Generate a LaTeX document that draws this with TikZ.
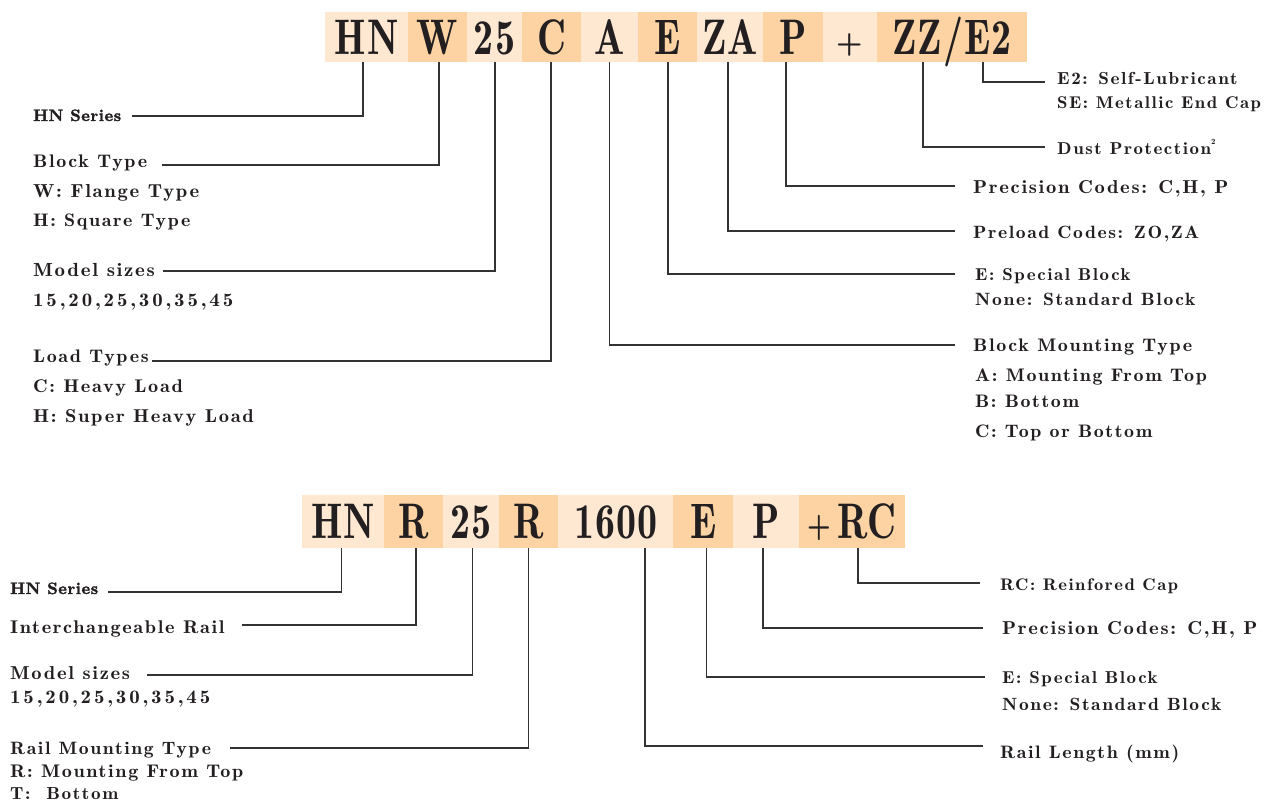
\documentclass[tikz,border=0pt]{standalone}
\usepackage{fontspec}
\setmainfont{Latin Modern Roman}
\newfontfamily\labfam[LetterSpace=9,FakeStretch=1.1]{lmromandemi10-regular.otf}
\newfontfamily\digfam[LetterSpace=15,FakeStretch=1.1]{lmromandemi10-regular.otf}
\newfontfamily\boldfam[LetterSpace=3,FakeBold=2]{lmroman10-bold.otf}
\newfontfamily\codefam[LetterSpace=3]{lmromandemi10-regular.otf}
\definecolor{lightc}{HTML}{FFE8D2}
\definecolor{darkc}{HTML}{FDD3A3}
\definecolor{ink}{HTML}{231F20}
\definecolor{linec}{HTML}{333333}
\newcommand\cd[1]{\scalebox{0.8}[1]{#1}}
\tikzset{
  cbox/.style={draw=none, inner sep=0pt, text=ink, text height=34pt, text depth=0pt,
    font={\codefam\fontsize{50}{50}\selectfont}},
  tbox/.style={cbox, minimum height=50pt},
  bbox/.style={cbox, minimum height=53pt},
  lt/.style={fill=lightc},
  dk/.style={fill=darkc},
  lab/.style={anchor=base west, inner sep=0pt, text=ink, font={\labfam\fontsize{#1}{#1}\selectfont}},
  lab/.default=19,
  dlab/.style={anchor=base west, inner sep=0pt, text=ink, font={\digfam\fontsize{19}{19}\selectfont}},
  blab/.style={anchor=base west, inner sep=0pt, text=ink, font={\boldfam\fontsize{16.5}{18}\selectfont}},
  leader/.style={draw=linec, line width=1.2pt}
}
\begin{document}
\begin{tikzpicture}[x=1pt, y=-1pt]
\useasboundingbox (0,0) rectangle (1270,803);
% ---------- top code bar ----------
\node[tbox, lt, minimum width=83] (tHN) at (366.5,37) {\cd{HN}};
\node[tbox, dk, minimum width=59] (tW) at (437.5,37) {\cd{W}};
\node[tbox, lt, minimum width=55] (t25) at (494.5,37) {\cd{25}};
\node[tbox, dk, minimum width=59] (tC) at (551.5,37) {\cd{C}};
\node[tbox, lt, minimum width=57] (tA) at (609.5,37) {\cd{A}};
\node[tbox, dk, minimum width=59] (tE) at (667.5,37) {\cd{E}};
\node[tbox, lt, minimum width=66] (tZA) at (730,37) {\cd{ZA}};
\node[tbox, dk, minimum width=60] (tP) at (793,37) {\cd{P}};
\node[tbox, lt, minimum width=54] (tplus) at (850,37) {\fontsize{34}{34}\selectfont\raisebox{1pt}{+}};
\node[tbox, dk, minimum width=150] (tZZ) at (952,37) {\cd{ZZ/E2}};
% ---------- top labels ----------
\node[blab] (lHN) at (33,121) {HN Series};
\node[lab=18.2] (lBT) at (33,167) {Block Type};
\node[lab=18.8] (lBT1) at (33,197) {W: Flange Type};
\node[lab=18.1] (lBT2) at (33,226) {H: Square Type};
\node[lab=19] (lMS) at (33,276) {Model sizes};
\node[dlab] (lMS1) at (33,306) {15,20,25,30,35,45};
\node[lab=18.2] (lLT) at (33,362) {Load Types};
\node[lab=18.4] (lLT1) at (33,392) {C: Heavy Load};
\node[lab=18.6] (lLT2) at (33,422) {H: Super Heavy Load};
\node[lab=17.4] (lE2) at (1057,84) {E2: Self-Lubricant};
\node[lab=17] (lSE) at (1057,108) {SE: Metallic End Cap};
\node[lab=17.2] (lDP) at (1057,154) {Dust Protection\raisebox{0.55em}{\fontsize{8}{8}\selectfont 2}};
\node[lab=18.7] (lPC) at (973,193) {Precision Codes: C,H, P};
\node[lab=17.8] (lPL) at (973,238) {Preload Codes: ZO,ZA};
\node[lab=17.2] (lSB) at (975,280) {E: Special Block};
\node[lab=17.8] (lSB1) at (975,305) {None: Standard Block};
\node[lab=18.2] (lBM) at (973,351) {Block Mounting Type};
\node[lab=18.2] (lBM1) at (975,381) {A: Mounting From Top};
\node[lab=18.1] (lBM2) at (975,407) {B: Bottom};
\node[lab=18.1] (lBM3) at (975,437) {C: Top or Bottom};
% ---------- top leader ends ----------
\coordinate (eHN) at (132,116);
\coordinate (eW) at (162,165);
\coordinate (e25) at (163,271);
\coordinate (eC) at (152,361);
\coordinate (eA) at (955,345);
\coordinate (eE) at (955,274);
\coordinate (eZA) at (955,231);
\coordinate (eP) at (955,186);
\coordinate (eZZ) at (1045,147);
\coordinate (eE2) at (1045,82);
\draw[leader] ([xshift=-3.5]tHN.south) |- (eHN);
\draw[leader] ([xshift=1.5]tW.south) |- (eW);
\draw[leader] ([xshift=0.5]t25.south) |- (e25);
\draw[leader] ([xshift=-0.5]tC.south) |- (eC);
\draw[leader] (tA.south) |- (eA);
\draw[leader] ([xshift=0.5]tE.south) |- (eE);
\draw[leader] ([xshift=-2]tZA.south) |- (eZA);
\draw[leader] ([xshift=-7]tP.south) |- (eP);
\draw[leader] ([xshift=-29]tZZ.south) |- (eZZ);
\draw[leader] ([xshift=31]tZZ.south) |- (eE2);
% ---------- bottom code bar ----------
\node[bbox, lt, minimum width=82.4] (bHN) at (343.2,521.5) {\cd{HN}};
\node[bbox, dk, minimum width=58.2] (bR) at (413.5,521.5) {\cd{R}};
\node[bbox, lt, minimum width=56.2] (b25) at (470.7,521.5) {\cd{25}};
\node[bbox, dk, minimum width=59.5] (bR2) at (528.5,521.5) {\cd{R}};
\node[bbox, lt, minimum width=115.2] (b1600) at (615.9,521.5) {\cd{1600}};
\node[bbox, dk, minimum width=59.5] (bE) at (703.2,521.5) {\cd{E}};
\node[bbox, lt, minimum width=66] (bP) at (766,521.5) {\cd{P}};
\node[bbox, dk, minimum width=106] (bRC) at (852,521.5) {\cd{{\fontsize{38}{38}\selectfont\raisebox{1pt}{+}}\,RC}};
% ---------- bottom labels ----------
\node[blab] (mHN) at (10,594) {HN Series};
\node[lab=18.4] (mIR) at (10,633) {Interchangeable Rail};
\node[lab=18.7] (mMS) at (10,679) {Model sizes};
\node[dlab] (mMS1) at (10,703) {15,20,25,30,35,45};
\node[lab=17.9] (mRM) at (10,754) {Rail Mounting Type};
\node[lab=18.3] (mRM1) at (10,777) {R: Mounting From Top};
\node[lab=17.5] (mRM2) at (10,799) {T:\ \ Bottom};
\node[lab=16.8] (mRC) at (1000,590) {RC: Reinfored Cap};
\node[lab=18.7] (mPC) at (1002,634) {Precision Codes: C,H, P};
\node[lab=17.2] (mSB) at (1002,683) {E: Special Block};
\node[lab=17.7] (mSB1) at (1002,710) {None: Standard Block};
\node[lab=18] (mRL) at (1000,758) {Rail Length (mm)};
% ---------- bottom leader ends ----------
\coordinate (fHN) at (108,592);
\coordinate (fR) at (242,625);
\coordinate (f25) at (147,675);
\coordinate (fR2) at (230,748);
\coordinate (f1600) at (983,746);
\coordinate (fE) at (985,677);
\coordinate (fP) at (983,628);
\coordinate (fRC) at (980,583);
\draw[leader] ([xshift=-2]bHN.south) |- (fHN);
\draw[leader] ([xshift=2.5]bR.south) |- (fR);
\draw[leader] ([xshift=2]b25.south) |- (f25);
\draw[leader] (bR2.south) |- (fR2);
\draw[leader] ([xshift=29]b1600.south) |- (f1600);
\draw[leader] ([xshift=3]bE.south) |- (fE);
\draw[leader] ([xshift=-3]bP.south) |- (fP);
\draw[leader] ([xshift=6]bRC.south) |- (fRC);
\end{tikzpicture}
\end{document}
